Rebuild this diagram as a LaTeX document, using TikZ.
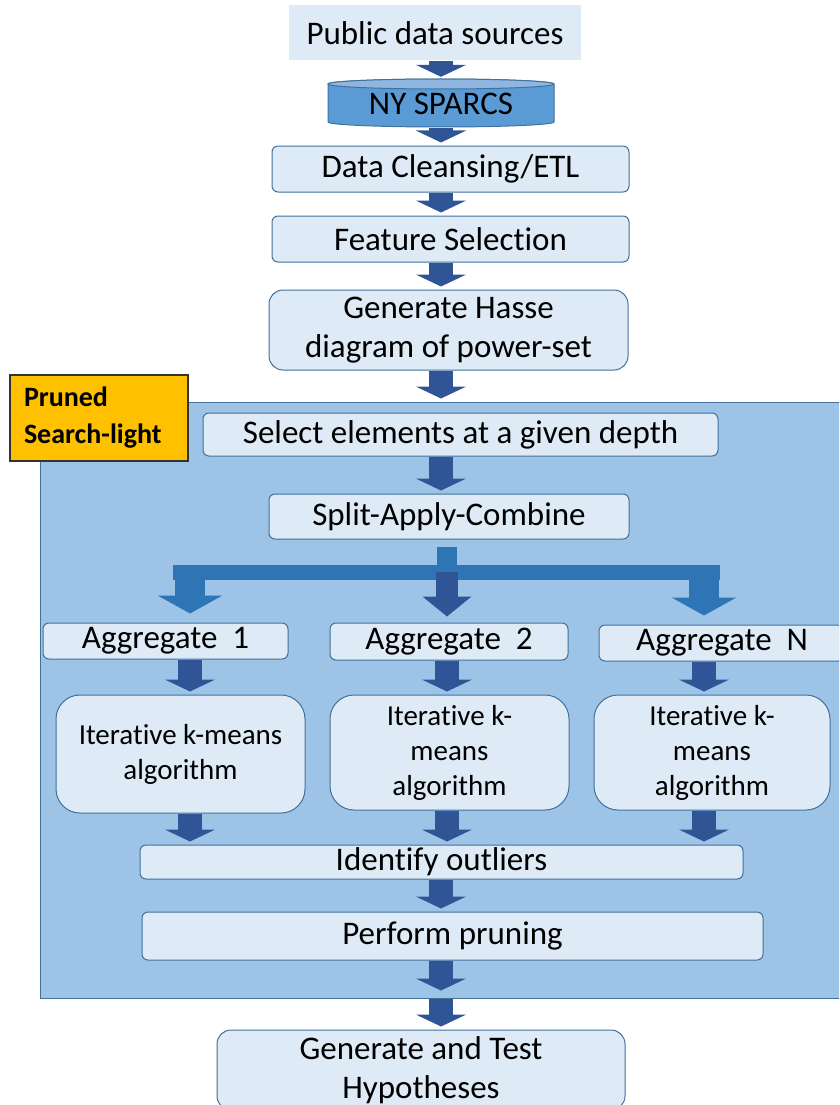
\documentclass[tikz,border=0pt]{standalone}
\usepackage{fontspec}
\setmainfont{Carlito}[Ligatures=NoCommon]
\usetikzlibrary{arrows.meta}

\definecolor{boxfill}{HTML}{DEEBF7}
\definecolor{boxline}{HTML}{41719C}
\definecolor{regionfill}{HTML}{9DC3E6}
\definecolor{flowblue}{HTML}{2F5597}
\definecolor{forkblue}{HTML}{2E75B6}
\definecolor{dbfill}{HTML}{5B9BD5}
\definecolor{dbtop}{HTML}{8EB6E0}
\definecolor{tagfill}{HTML}{FFC000}

\tikzset{
  big/.style={font=\fontsize{33}{39}\selectfont},
  small/.style={font=\fontsize{29}{35}\selectfont},
  stage/.style={draw=boxline, fill=boxfill, line width=1pt, rounded corners=6pt,
    align=center, inner sep=0pt, big},
  algo/.style={stage, rounded corners=24pt, small},
  flow/.style={draw=flowblue, line width=24pt,
    -{Triangle[width=50pt,length=12pt]}, shorten >=3pt},
  forkflow/.style={draw=forkblue, line width=30pt,
    -{Triangle[width=64pt,length=18pt]}, shorten >=9pt},
  forkmid/.style={draw=flowblue, line width=22pt,
    -{Triangle[width=48pt,length=20pt]}, shorten >=6pt},
}

\begin{document}
\begin{tikzpicture}[x=1pt,y=-1pt]
  \useasboundingbox (0,0) rectangle (839,1105);
  \clip (0,0) rectangle (839,1105);

  % pruned search-light region
  \node[draw=boxline, fill=regionfill, line width=1pt, minimum width=805pt,
    minimum height=596pt, inner sep=0pt] (light) at (442.5,700) {};

  \node[fill=boxfill, minimum width=292pt, minimum height=55pt, inner sep=0pt, big]
    (pub) at (435,33) {Public data sources};

  % database cylinder
  \filldraw[draw=boxline, fill=dbfill, line width=1pt] (328,84) -- (328,122)
    arc[start angle=180, end angle=360, x radius=113pt, y radius=5pt] -- (554,84)
    arc[start angle=0, end angle=180, x radius=113pt, y radius=5pt] -- cycle;
  \filldraw[draw=boxline, fill=dbtop, line width=1pt] (441,84)
    ellipse[x radius=113pt, y radius=5pt];
  \node[minimum width=226pt, minimum height=48pt, inner sep=0pt, big]
    (ny) at (441,104) {NY SPARCS};

  \node[stage, minimum width=357pt, minimum height=46pt] (clean) at (450.5,169) {Data Cleansing/ETL};
  \node[stage, minimum width=357pt, minimum height=46pt] (feat) at (450.5,239) {Feature Selection};
  \node[stage, rounded corners=14pt, minimum width=359pt, minimum height=80pt]
    (hasse) at (448.5,330) {Generate Hasse\\diagram of power-set};

  \node[draw=black!80, fill=tagfill, line width=1.2pt, text width=150pt, inner xsep=14pt,
    minimum height=86pt, align=left, font=\fontsize{28}{37}\selectfont\bfseries]
    (pruned) at (99,418) {Pruned\\Search-light};

  \node[stage, minimum width=515pt, minimum height=43pt] (select) at (460.5,434.5) {Select elements at a given depth};
  \node[stage, minimum width=360pt, minimum height=45pt] (split) at (449,516.5) {Split-Apply-Combine};

  \node[stage, minimum width=245pt, minimum height=36pt] (agg1) at (165.5,641) {Aggregate\ \ 1};
  \node[stage, minimum width=238pt, minimum height=37pt] (agg2) at (449,641.5) {Aggregate\ \ 2};
  \node[stage, minimum width=246pt, minimum height=36pt] (aggN) at (722,643) {Aggregate\ \ N};

  \node[algo, minimum width=249pt, minimum height=118pt] (iter1) at (180.5,754) {Iterative k-means\\algorithm};
  \node[algo, minimum width=239pt, minimum height=115pt] (iter2) at (449.5,752.5) {Iterative k-\\means\\algorithm};
  \node[algo, minimum width=236pt, minimum height=115pt] (iter3) at (712,752.5) {Iterative k-\\means\\algorithm};

  \node[stage, minimum width=603pt, minimum height=34pt] (outl) at (441.5,862) {Identify outliers};
  \node[stage, minimum width=621pt, minimum height=48pt] (prune) at (452.5,936) {Perform pruning};

  \node[stage, rounded corners=14pt, minimum width=408pt, minimum height=80pt]
    (hypo) at (421,1070) {Generate and Test\\Hypotheses};

  \coordinate (col1) at (190,0);
  \coordinate (col2) at (447,0);
  \coordinate (col3) at (704,0);
  \coordinate (fork) at (447,572);
  \coordinate (forkl) at (173,572);
  \coordinate (forkr) at (720,572);

  \foreach \from/\to in {pub/ny,ny/clean,clean/feat,feat/hasse,hasse/light,select/split,outl/prune,light/hypo}
    \draw[flow] (\from.south -| ny) -- (\to.north -| ny);
  \draw[flow, shorten >=8pt] (prune.south -| ny) -- (light.south -| ny);

  % split into the aggregates
  \draw[draw=forkblue, line width=20pt, shorten <=7pt] (split.south -| fork) -- (fork);
  \draw[draw=forkblue, line width=15pt] (forkl) -- (forkr);
  \draw[forkflow] (fork -| col1) -- (agg1.north -| col1);
  \draw[forkmid] (fork) -- (agg2.north -| fork);
  \draw[forkflow] (fork -| col3) -- (aggN.north -| col3);

  \foreach \a/\b/\c in {agg1/iter1/col1,agg2/iter2/col2,aggN/iter3/col3}
    \draw[flow] (\a.south -| \c) -- (\b.north -| \c);
  \foreach \b/\c in {iter1/col1,iter2/col2,iter3/col3}
    \draw[flow] (\b.south -| \c) -- (outl.north -| \c);

\end{tikzpicture}
\end{document}
